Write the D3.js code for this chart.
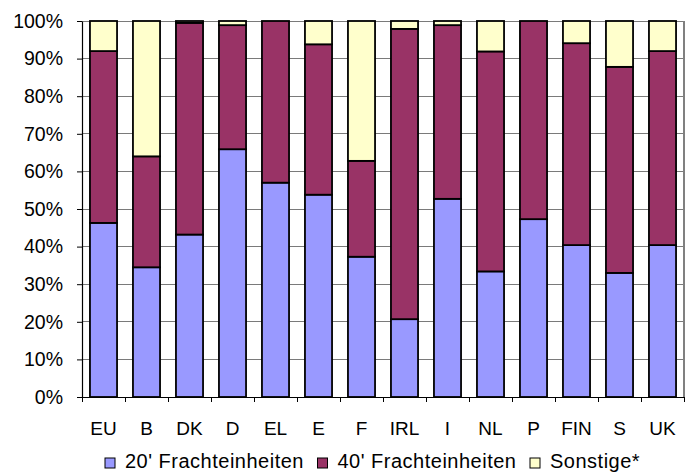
<!DOCTYPE html>
<html>
<head>
<meta charset="utf-8">
<script src="https://cdn.jsdelivr.net/npm/d3@7"></script>
<style>
  html, body { margin: 0; padding: 0; background: #fff; }
  svg { display: block; font-family: "Liberation Sans", Arial, sans-serif; }
</style>
</head>
<body>
<svg id="chart" width="695" height="473"></svg>
<script>
const categories = ["EU","B","DK","D","EL","E","F","IRL","I","NL","P","FIN","S","UK"];
const series = ["20' Frachteinheiten", "40' Frachteinheiten", "Sonstige*"];
const ft20 =    [46.3, 34.5, 43.2, 65.9, 57.0, 53.8, 37.3, 20.7, 52.7, 33.4, 47.3, 40.4, 33.0, 40.4];
const ft40 =    [45.7, 29.5, 56.3, 33.0, 43.0, 40.0, 25.5, 77.2, 46.2, 58.5, 52.7, 53.7, 54.8, 51.6];
const sonstige= [8.0, 36.0, 0.5, 1.1, 0.0, 6.2, 37.2, 2.1, 1.1, 8.1, 0.0, 5.9, 12.2, 8.0];
const yTicks = [0,10,20,30,40,50,60,70,80,90,100];
const colors = ["#9999FF", "#993366", "#FFFFCC"];

const svg = d3.select("#chart");
const m = {left: 82, right: 684, top: 21, bottom: 397};

const data = categories.map((c, i) => ({cat: c, s0: ft20[i], s1: ft40[i], s2: sonstige[i]}));
const stack = d3.stack().keys(["s0","s1","s2"]).offset(d3.stackOffsetExpand);
const stacked = stack(data);

const x = d3.scaleBand().domain(categories).range([m.left, m.right])
  .paddingInner(0.37).paddingOuter(0.185);
const y = d3.scaleLinear().domain([0, 1]).range([m.bottom, m.top]);
const xb = d3.scaleLinear().domain([0, categories.length]).range([m.left, m.right]);

// gridlines
svg.append("g").selectAll("line").data(yTicks.filter(t => t > 0)).join("line")
  .attr("x1", m.left).attr("x2", m.right)
  .attr("y1", d => y(d/100)).attr("y2", d => y(d/100))
  .attr("stroke", "#7a7a7a").attr("stroke-width", 1).attr("shape-rendering", "crispEdges");
// right border
svg.append("line").attr("x1", m.right).attr("x2", m.right).attr("y1", m.top).attr("y2", m.bottom)
  .attr("stroke", "#808080").attr("stroke-width", 1.5).attr("shape-rendering", "crispEdges");

// bars
svg.append("g").selectAll("g").data(stacked).join("g")
  .attr("fill", (d, i) => colors[i])
  .selectAll("rect").data(d => d.filter(v => v[1] - v[0] > 0)).join("rect")
  .attr("x", d => x(d.data.cat))
  .attr("width", x.bandwidth())
  .attr("y", d => y(d[1]))
  .attr("height", d => y(d[0]) - y(d[1]))
  .attr("stroke", "#000").attr("stroke-width", 1.8);

// y axis
const yAxis = d3.axisLeft(y).tickValues(yTicks.map(t => t/100))
  .tickFormat(d => Math.round(d*100) + "%").tickSize(5).tickPadding(14).tickSizeOuter(0);
const gy = svg.append("g").attr("transform", `translate(${m.left},0)`).call(yAxis);
gy.select(".domain").attr("stroke", "#000").attr("stroke-width", 1.2);
gy.selectAll(".tick line").attr("stroke", "#000");
gy.selectAll("text").attr("font-size", "19.5px").attr("fill", "#000")
  .attr("font-family", "Liberation Sans, Arial, sans-serif");

// x axis boundary ticks
const xTickAxis = d3.axisBottom(xb).tickValues(d3.range(0, categories.length + 1))
  .tickFormat("").tickSize(5).tickSizeOuter(0);
const gxt = svg.append("g").attr("transform", `translate(0,${m.bottom})`).call(xTickAxis);
gxt.select(".domain").attr("stroke", "#000").attr("stroke-width", 1.2);
gxt.selectAll(".tick line").attr("stroke", "#000");

// x labels
const xAxis = d3.axisBottom(x).tickSize(0).tickPadding(24.5);
const gx = svg.append("g").attr("transform", `translate(0,${m.bottom})`).call(xAxis);
gx.select(".domain").remove();
gx.selectAll("text").attr("font-size", "19px").attr("fill", "#000")
  .attr("font-family", "Liberation Sans, Arial, sans-serif");

// legend
const legendX = [105, 317.5, 530];
const lg = svg.append("g").selectAll("g").data(series).join("g")
  .attr("transform", (d, i) => `translate(${legendX[i]},458)`);
lg.append("rect").attr("width", 10).attr("height", 10)
  .attr("fill", (d, i) => colors[i]).attr("stroke", "#000").attr("stroke-width", 1);
lg.append("text").attr("x", 20).attr("y", 10).text(d => d)
  .attr("font-size", "20px").attr("letter-spacing", "0.5px").attr("fill", "#000");
</script>
</body>
</html>
